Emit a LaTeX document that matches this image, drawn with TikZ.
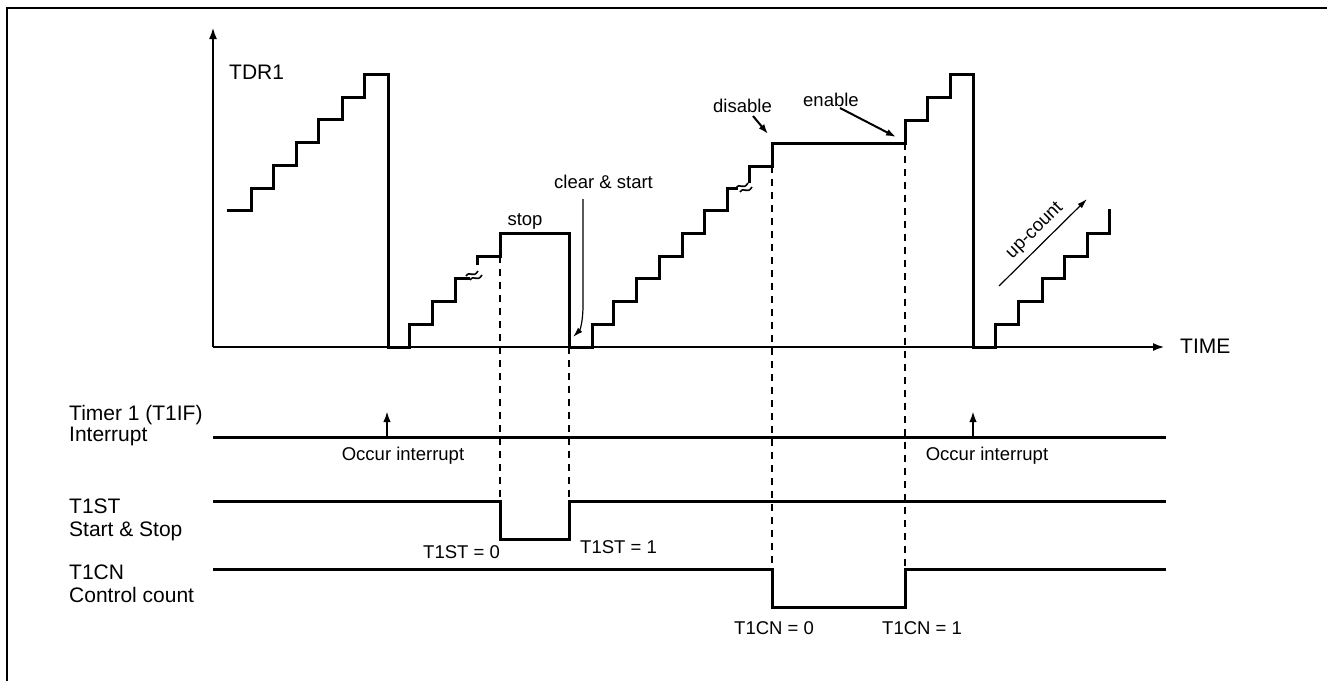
\documentclass[tikz,border=0pt]{standalone}
\usepackage{fontspec}
\setmainfont{Liberation Sans}
\usetikzlibrary{arrows.meta}
\begin{document}
\begin{tikzpicture}[x=1pt,y=-1pt,
  wave/.style={line width=3pt},
  sig/.style={line width=3pt},
  axis/.style={line width=2.5pt,-{Latex[length=12pt,width=8pt]}},
  guide/.style={line width=2pt,dash pattern=on 7pt off 6pt},
  callout/.style={line width=2pt,-{Latex[length=10pt,width=7pt]}},
  thinarrow/.style={line width=1.2pt,-{Latex[length=10pt,width=6pt]}},
  intarrow/.style={line width=2.5pt,-{Latex[length=11pt,width=7.5pt]}},
  brk/.style={line width=1.6pt},
  lbl/.style={font=\fontsize{18.5}{22}\selectfont,inner sep=0pt},
  side/.style={font=\fontsize{21}{24}\selectfont,inner sep=0pt,anchor=base west}]
\useasboundingbox (0,0) rectangle (1327,681);
% frame
\draw[line width=2pt] (7,681) -- (7,8) -- (1327,8);
% axes
\coordinate (o) at (213,347);
\coordinate (ytop) at (213,27);
\coordinate (xend) at (1165,347);
\draw[axis] (o) -- (ytop);
\draw[axis] (o) -- (xend);
\node[side] (tdr) at (229,79) {TDR1};
\node[side] (time) at (1180,353) {TIME};
% waveform
\draw[wave] (227,210) -- (251,210) -- (251,188) -- (273,188) -- (273,165) -- (296,165) -- (296,142)
  -- (318,142) -- (318,119) -- (342,119) -- (342,97) -- (364,97) -- (364,74) -- (388,74)
  -- (388,347) -- (409,347) -- (409,324) -- (432,324) -- (432,301) -- (455,301) -- (455,278) -- (470,278);
\draw[wave] (477,265) -- (477,256) -- (500,256) -- (500,233) -- (569,233) -- (569,347) -- (592,347)
  -- (592,324) -- (613,324) -- (613,301) -- (636,301) -- (636,278) -- (659,278) -- (659,256)
  -- (682,256) -- (682,233) -- (704,233) -- (704,210) -- (727,210) -- (727,188) -- (738,188);
\draw[wave] (749,183) -- (749,166) -- (772,166) -- (772,143) -- (905,143) -- (905,120) -- (927,120)
  -- (927,97) -- (950,97) -- (950,74) -- (973,74) -- (973,347) -- (995,347) -- (995,324)
  -- (1018,324) -- (1018,301) -- (1042,301) -- (1042,278) -- (1064,278) -- (1064,256)
  -- (1087,256) -- (1087,233) -- (1109,233) -- (1109,209);
% break marks
\draw[brk] (466,276) .. controls (470,270) and (473,279) .. (478,271);
\draw[brk] (470,280) .. controls (474,274) and (477,283) .. (482,275);
\draw[brk] (736,188) .. controls (740,182) and (743,191) .. (748,183);
\draw[brk] (740,192) .. controls (744,186) and (747,195) .. (752,187);
% guide lines
\draw[guide] (500,256) -- (500,501);
\draw[guide] (569,347) -- (569,501);
\draw[guide] (772,166) -- (772,569);
\draw[guide] (905,143) -- (905,569);
% labels on the count graph
\node[lbl,anchor=base] (stop) at (525,225) {stop};
\node[lbl,anchor=base west] (clr) at (554,188) {clear \& start};
\node[lbl,anchor=base west] (dis) at (713,112) {disable};
\node[lbl,anchor=base west] (en) at (803,106) {enable};
\coordinate (clrA) at (583,199);
\coordinate (clrB) at (573,337);
\draw[thinarrow] (clrA) -- (583,305) .. controls (583,322) and (580,330) .. (clrB);
\coordinate (disT) at (768,134);
\coordinate (enT) at (896,137);
\draw[callout] (753,116) -- (disT);
\draw[callout] (840,108) -- (enT);
\coordinate (ucA) at (999,286);
\coordinate (ucB) at (1087,199);
\draw[thinarrow] (ucA) -- (ucB);
\node[lbl,rotate=44.7] (uc) at (1035,231) {up-count};
% signal lines
\draw[sig] (213,437) -- (1166,437);
\coordinate (i1) at (387,437);
\coordinate (i2) at (973,437);
\draw[intarrow] (i1) -- ++(0,-26);
\draw[intarrow] (i2) -- ++(0,-26);
\node[lbl,anchor=base] (oi1) at (403,460) {Occur interrupt};
\node[lbl,anchor=base] (oi2) at (987,460) {Occur interrupt};
\draw[sig] (213,501) -- (500,501) -- (500,539) -- (569,539) -- (569,501) -- (1166,501);
\node[lbl,anchor=base east] (st0) at (500,558) {T1ST = 0};
\node[lbl,anchor=base west] (st1) at (580,553) {T1ST = 1};
\draw[sig] (213,569) -- (772,569) -- (772,607) -- (905,607) -- (905,569) -- (1166,569);
\node[lbl,anchor=base west] (cn0) at (734,634) {T1CN = 0};
\node[lbl,anchor=base west] (cn1) at (882,634) {T1CN = 1};
% side labels
\node[side] (s1) at (69,420) {Timer 1 (T1IF)};
\node[side] (s2) at (69,441) {Interrupt};
\node[side] (s3) at (69,513) {T1ST};
\node[side] (s4) at (69,536) {Start \& Stop};
\node[side] (s5) at (69,579) {T1CN};
\node[side] (s6) at (69,602) {Control count};
\end{tikzpicture}
\end{document}
